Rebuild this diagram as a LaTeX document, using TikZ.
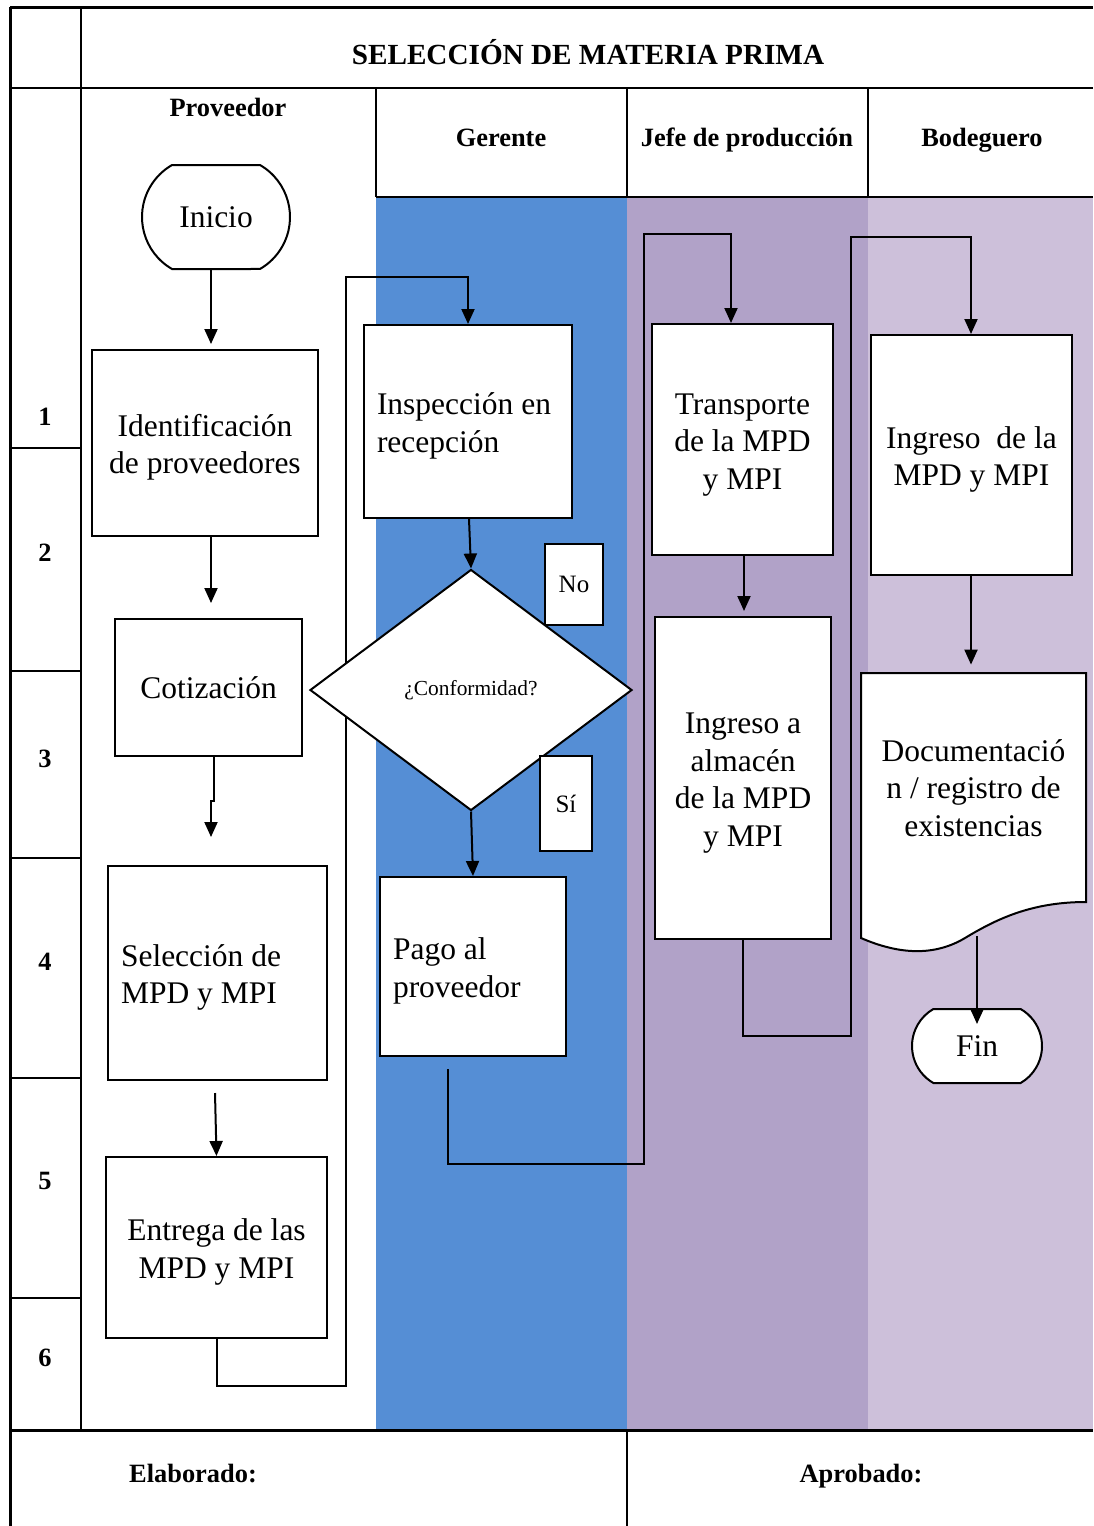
\documentclass[tikz,border=0pt]{standalone}
\usepackage{fontspec}
\setmainfont{Liberation Serif}
\usetikzlibrary{shapes.geometric,shapes.misc,arrows.meta}
\definecolor{gerblue}{RGB}{85,142,213}
\definecolor{jefepur}{RGB}{177,162,200}
\definecolor{bodpur}{RGB}{205,192,218}
\newcommand{\bodyfont}{\fontsize{15.75}{18.8}\selectfont}
\newcommand{\hdrfont}{\bfseries\fontsize{13.2}{15}\selectfont}
\newcommand{\lowr}{\rule{0pt}{15.5pt}}
\begin{document}
\begin{tikzpicture}[x=0.5pt,y=-0.5pt,
  frame/.style={line width=1.5pt},
  inner/.style={line width=1.2pt},
  box/.style={draw, fill=white, line width=1pt, inner sep=0pt, font=\bodyfont, align=center},
  lbox/.style={box, align=flush left, inner xsep=6.5pt},
  term/.style={box, rounded rectangle, rounded rectangle arc length=120},
  hdr/.style={font=\hdrfont, inner sep=0pt, text height=10pt, text depth=3pt},
  lbl/.style={box, font=\fontsize{12.5}{14}\selectfont},
  conn/.style={line width=1pt, -{Triangle[length=7.5pt,width=6.5pt]}}
]
\useasboundingbox (0,0) rectangle (1093,1526);
% lane backgrounds
\fill[gerblue] (376,197) rectangle (627,1430);
\fill[jefepur] (627,197) rectangle (868,1430);
\fill[bodpur] (868,197) rectangle (1093,1430);
% frame
\draw[frame] (10,7) -- (1093,7);
\draw[frame] (10,7) -- (10,1526);
\draw[inner] (81,7) -- (81,1430);
\draw[inner] (10,88) -- (1093,88);
\draw[inner] (376,88) -- (376,197);
\draw[inner] (627,88) -- (627,197);
\draw[inner] (868,88) -- (868,197);
\draw[inner] (376,197) -- (1093,197);
\foreach \yy in {448,671,858,1078,1298} \draw[inner] (10,\yy) -- (81,\yy);
\draw[frame] (10,1430) -- (1093,1430);
\draw[inner] (627,1430) -- (627,1526);
% texts of the table
\node[hdr, font=\bfseries\fontsize{14.6}{16}\selectfont] (title) at (588,57) {SELECCIÓN DE MATERIA PRIMA};
\node[hdr] (hprov) at (228,109) {Proveedor};
\node[hdr] (hger) at (501,139) {Gerente};
\node[hdr] (hjefe) at (747,139) {Jefe de producción};
\node[hdr] (hbod) at (982,139) {Bodeguero};
\node[hdr] (r1) at (45,418) {1};
\node[hdr] (r2) at (45,554) {2};
\node[hdr] (r3) at (45,760) {3};
\node[hdr] (r4) at (45,963) {4};
\node[hdr] (r5) at (45,1182) {5};
\node[hdr] (r6) at (45,1359) {6};
\node[hdr] (elab) at (193,1475) {Elaborado:};
\node[hdr] (aprob) at (861,1475) {Aprobado:};
% nodes
\node[term, minimum width=74pt, minimum height=52pt] (inicio) at (216,217) {Inicio};
\node[box, minimum width=113pt, minimum height=93pt] (ident) at (205,443) {\lowr Identificación\\de proveedores};
\node[box, minimum width=93.5pt, minimum height=68.5pt] (cotiz) at (208.5,687.5) {Cotización};
\node[lbox, text width=96.5pt, minimum height=107pt] (selec) at (217.5,973) {\lowr Selección de\\MPD y MPI};
\node[box, minimum width=110.5pt, minimum height=90.5pt] (entrega) at (216.5,1247.5) {\lowr Entrega de las\\MPD y MPI};
\node[lbox, text width=91pt, minimum height=96.5pt] (insp) at (468,421.5) {\lowr Inspección en\\recepción};
\node[lbox, text width=80pt, minimum height=89.5pt] (pago) at (473,966.5) {\lowr Pago al\\proveedor};
\node[box, minimum width=90.5pt, minimum height=115.5pt] (transp) at (742.5,439.5) {\lowr Transporte\\de la MPD\\y MPI};
\node[box, minimum width=88pt, minimum height=161pt] (almacen) at (743,778) {\lowr Ingreso a\\almacén\\de la MPD\\y MPI};
\node[box, minimum width=100.5pt, minimum height=120pt] (ingreso) at (971.5,455) {\lowr Ingreso\ \ de la\\MPD y MPI};
\draw[line width=1pt, fill=white] (861,673) -- (1086,673) -- (1086,902)
  .. controls (1030,902) and (995,920) .. (965,938)
  .. controls (935,956) and (900,955) .. (861,938) -- cycle;
\node[font=\bodyfont, align=center, minimum width=112.5pt, minimum height=115pt, inner sep=0pt] (doc) at (973.5,788) {Documentació\\n / registro de\\existencias};
\coordinate (docb) at (977,936);
\node[term, minimum width=65pt, minimum height=37pt] (fin) at (977,1046) {Fin};
% corridor coordinates
\coordinate (c1) at (346,1386);
\coordinate (c2) at (346,277);
\coordinate (c3) at (644,1164);
\coordinate (c4) at (644,234);
\coordinate (c5) at (851,1036);
\coordinate (c6) at (851,237);
% connector behind the decision
\draw[conn] (entrega.south) |- (c1) -- (c2) -| (insp.north);
% decision
\node[box, diamond, minimum width=161pt, minimum height=120.5pt, font=\fontsize{10.7}{12}\selectfont] (dia) at (471,690) {¿Conformidad?};
\node[lbl, minimum width=29pt, minimum height=40.5pt] (no) at (574,584.5) {No};
\node[lbl, minimum width=26pt, minimum height=47.5pt] (si) at (566,803.5) {Sí};
% connectors
\draw[conn, shorten >=2.5pt] ([xshift=-2.5pt]inicio.south) -- ([xshift=-2.5pt]inicio.south |- ident.north);
\draw[conn, shorten >=7.5pt] ([xshift=3pt]ident.south) -- ([xshift=3pt]ident.south |- cotiz.north);
\draw[conn] ([xshift=2.75pt]cotiz.south) -- ++(0,44) -- ++(-3,0) -- ([xshift=-3.25pt,yshift=14pt]selec.north);
\draw[conn] ([xshift=-1.25pt,yshift=-6pt]selec.south) -- (entrega.north);
\draw[conn] ([xshift=0.5pt]insp.south) -- (dia.north);
\draw[conn] (dia.south) -- (pago.north);
\draw[conn] ([xshift=-12.5pt,yshift=-6pt]pago.south) |- (c3) -- (c4) -| ([xshift=-5.75pt]transp.north);
\draw[conn, shorten >=2.5pt] ([xshift=0.75pt]transp.south) -- ([xshift=0.75pt]transp.south |- almacen.north);
\draw[conn] (almacen.south) |- (c5) -- (c6) -| ([xshift=-0.25pt]ingreso.north);
\draw[conn, shorten >=4pt] ([xshift=-0.25pt]ingreso.south) -- ([xshift=-0.25pt]ingreso.south |- doc.north);
\draw[conn] (docb) -- ([yshift=-8pt]fin.north);
\end{tikzpicture}
\end{document}
